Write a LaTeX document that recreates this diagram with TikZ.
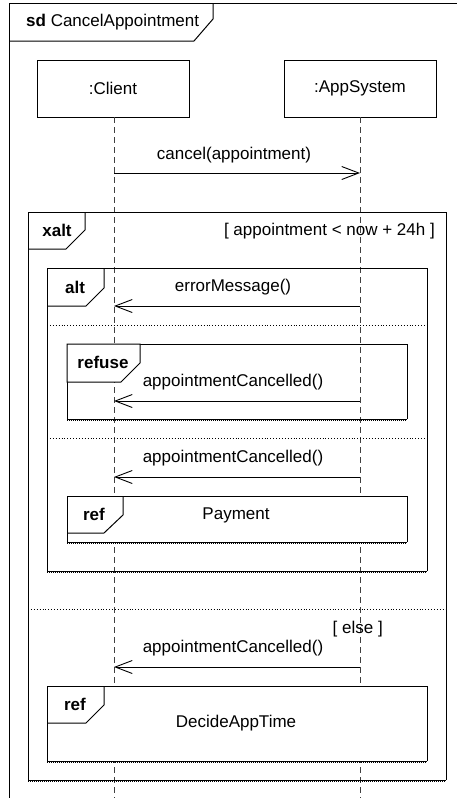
\documentclass[tikz,border=0pt]{standalone}
\usepackage{fontspec}
\setmainfont{Liberation Sans}
\usetikzlibrary{arrows.meta}
\begin{document}
\begin{tikzpicture}[x=1pt,y=-1pt,
  every node/.style={font=\fontsize{17}{20}\selectfont, inner sep=0pt},
  frm/.style={line width=1pt, draw=black},
  tabfrm/.style={line width=1pt, draw=black, fill=white},
  tabtxt/.style={font=\fontsize{17}{20}\selectfont\bfseries},
  lifebox/.style={draw, line width=1pt, minimum width=152pt, minimum height=57pt},
  lifeline/.style={line width=0.9pt, draw=black!75, dash pattern=on 6pt off 4pt},
  msg/.style={line width=0.9pt, -{Straight Barb[length=17pt,width=13pt,line width=0.9pt]}},
  sep/.style={line width=0.9pt, dotted},
  botedge/.style={line width=1pt, densely dotted}
]
\useasboundingbox (0,0) rectangle (457,798);
\clip (0,0) rectangle (457,798);
\fill[white] (0,0) rectangle (457,798);

% outer sd frame
\draw[frm] (9,3) rectangle (480,820);
\draw[frm] (9,41) -- (194,41) -- (213,19) -- (213,3);
\node[anchor=west] (sdlbl) at (26,22) {\textbf{sd} CancelAppointment};

% lifelines
\node[lifebox] (cl) at (113,88.5) {:Client};
\node[lifebox] (as) at (360,88.5) {:AppSystem};
\coordinate (clend) at (114,800);
\coordinate (asend) at (360,800);
\draw[lifeline] (114,117) -- (clend);
\draw[lifeline] (360,117) -- (asend);

% cancel message
\coordinate (m0a) at (114,173);
\coordinate (m0b) at (360,173);
\draw[msg] (m0a) -- (m0b);
\node (m0l) at (234,155) {cancel(appointment)};

% xalt frame
\draw[frm] (28,780) -- (28,212) -- (446,212) -- (446,780);
\draw[frm] (28,780) -- (446,780);
\draw[botedge] (28,781.3) -- (446,781.3);
\draw[frm] (28,249) -- (66,249) -- (85,230) -- (85,212);
\node[tabtxt] (xaltl) at (57,230.5) {xalt};
\node[anchor=east] (g1) at (435,231) {[ appointment < now + 24h ]};
\draw[sep] (28,609) -- (446,609);
\node[anchor=east] (g2) at (383,629) {[ else ]};

% alt frame
\draw[frm] (47,571) -- (47,268) -- (427,268) -- (427,571);
\draw[frm] (47,571) -- (427,571);
\draw[botedge] (47,572.3) -- (427,572.3);
\draw[frm] (47,306) -- (86,306) -- (104,288) -- (104,268);
\node[tabtxt] (altl) at (75,287) {alt};

\coordinate (m1a) at (360,306);
\coordinate (m1b) at (114,306);
\draw[msg] (m1a) -- (m1b);
\node (m1l) at (233,287) {errorMessage()};

\draw[sep] (47,325) -- (427,325);

% refuse frame
\draw[frm] (67,419) -- (67,344) -- (407,344) -- (407,419);
\draw[frm] (67,419) -- (407,419);
\draw[botedge] (67,420.3) -- (407,420.3);
\draw[tabfrm] (67,344) -- (67,382) -- (121,382) -- (140,363) -- (140,344) -- cycle;
\node[tabtxt] (refusel) at (103,362) {refuse};
\coordinate (m2a) at (360,401);
\coordinate (m2b) at (114,401);
\draw[msg] (m2a) -- (m2b);
\node (m2l) at (233,382) {appointmentCancelled()};

\draw[sep] (47,438) -- (427,438);

\coordinate (m3a) at (360,477);
\coordinate (m3b) at (114,477);
\draw[msg] (m3a) -- (m3b);
\node (m3l) at (233,458) {appointmentCancelled()};

% ref Payment
\fill[white] (67,496) rectangle (407,542);
\draw[frm] (67,542) -- (67,496) -- (407,496) -- (407,542);
\draw[frm] (67,542) -- (407,542);
\draw[botedge] (67,543.3) -- (407,543.3);
\draw[frm] (67,533) -- (104,533) -- (123,515) -- (123,496);
\node[tabtxt] (ref1l) at (94,514.5) {ref};
\node (ref1t) at (236,515) {Payment};

% else part
\coordinate (m4a) at (360,667);
\coordinate (m4b) at (114,667);
\draw[msg] (m4a) -- (m4b);
\node (m4l) at (233,648) {appointmentCancelled()};

% ref DecideAppTime
\fill[white] (47,686) rectangle (427,761);
\draw[frm] (47,761) -- (47,686) -- (427,686) -- (427,761);
\draw[frm] (47,761) -- (427,761);
\draw[botedge] (47,762.3) -- (427,762.3);
\draw[frm] (47,723) -- (86,723) -- (104,705) -- (104,686);
\node[tabtxt] (ref2l) at (75,704) {ref};
\node (ref2t) at (236,723) {DecideAppTime};
\end{tikzpicture}
\end{document}
